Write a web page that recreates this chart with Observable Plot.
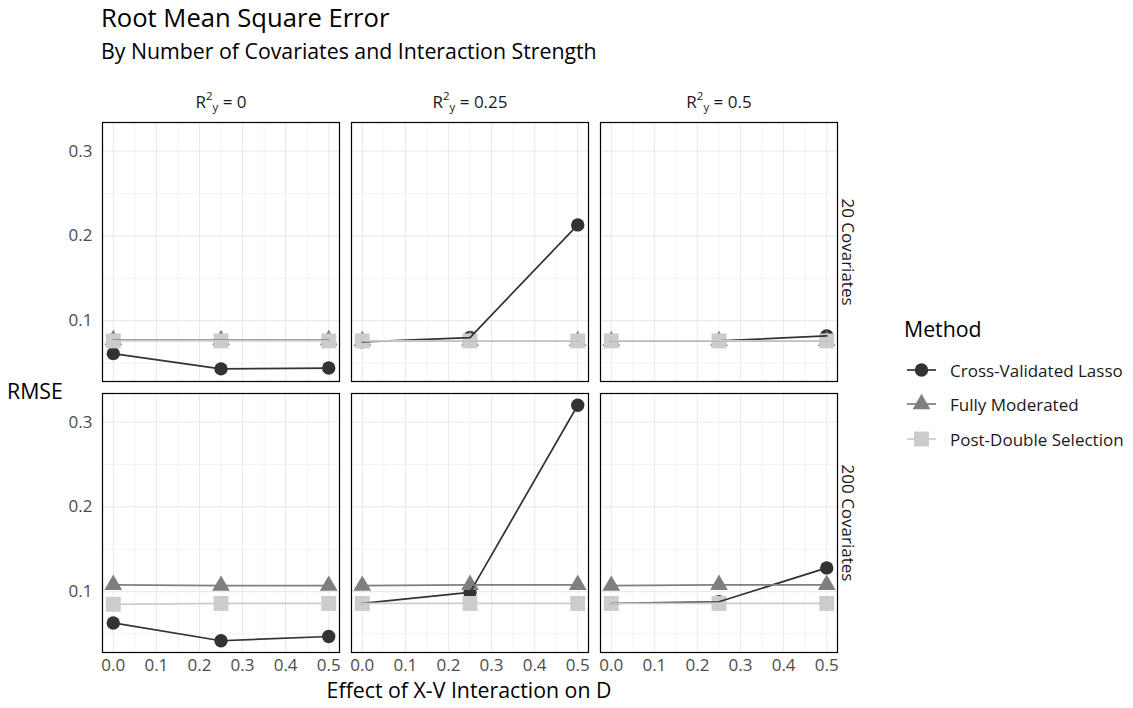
<!DOCTYPE html>
<html><head><meta charset="utf-8">
<script src="https://cdn.jsdelivr.net/npm/d3@7"></script>
<script src="https://cdn.jsdelivr.net/npm/@observablehq/plot@0.6"></script>
<style>
body{margin:0;background:#fff;font-family:"Open Sans",sans-serif;}
#wrap{position:relative;width:1133px;height:708px;overflow:hidden;background:#fff;}
.abs{position:absolute;white-space:nowrap;line-height:1;}
#chart{position:absolute;left:0;top:0;}
</style></head><body><div id="wrap"><div id="chart"></div></div>
<script>
// ---- data ----
const methods = ["Cross-Validated Lasso", "Fully Moderated", "Post-Double Selection"];
const methodColors = ["#333333", "#7f7f7f", "#cccccc"];
const methodSymbols = ["circle", "triangle", "square"];
const interaction = [0, 0.25, 0.5];
const r2y = [0, 0.25, 0.5];
const covariates = ["20 Covariates", "200 Covariates"];
const xTicks = [0, 0.1, 0.2, 0.3, 0.4, 0.5];
const xMinorTicks = [0.05, 0.15, 0.25, 0.35, 0.45];
const yTicks = [0.1, 0.2, 0.3];
const yMinorTicks = [0.05, 0.15, 0.25];

// values ordered: R2y = 0 (3 interaction pts), R2y = 0.25, R2y = 0.5
const cvLasso20   = [0.061, 0.043, 0.044,  0.075, 0.080, 0.213,  0.076, 0.076, 0.082];
const cvLasso200  = [0.063, 0.042, 0.047,  0.086, 0.099, 0.320,  0.086, 0.088, 0.128];
const fullyMod20  = [0.077, 0.077, 0.077,  0.076, 0.076, 0.076,  0.076, 0.076, 0.076];
const fullyMod200 = [0.108, 0.107, 0.107,  0.107, 0.108, 0.108,  0.107, 0.108, 0.108];
const pds20       = [0.076, 0.076, 0.076,  0.076, 0.076, 0.076,  0.076, 0.076, 0.076];
const pds200      = [0.085, 0.086, 0.086,  0.086, 0.086, 0.086,  0.086, 0.086, 0.086];

const seriesValues = [
  [cvLasso20, cvLasso200],
  [fullyMod20, fullyMod200],
  [pds20, pds200]
];

const rows = [];
methods.forEach((m, mi) => {
  covariates.forEach((cov, ci) => {
    r2y.forEach((r, ri) => {
      interaction.forEach((x, xi) => {
        rows.push({method: m, cov, r2: r, inter: x, rmse: seriesValues[mi][ci][ri * 3 + xi]});
      });
    });
  });
});

const [ymin, ymax] = d3.extent(rows, d => d.rmse);
const yPad = (ymax - ymin) * 0.05;
const xPad = (0.5 - 0) * 0.05;

const FONT = '"Open Sans", sans-serif';
const symbolR = [6.7, 6.6, 8.4];

const marks = [
  Plot.gridX(xMinorTicks, {stroke: "#ebebeb", strokeOpacity: 1, strokeWidth: 0.6}),
  Plot.gridX(xTicks, {stroke: "#ebebeb", strokeOpacity: 1, strokeWidth: 1.1}),
  Plot.gridY(yMinorTicks, {stroke: "#ebebeb", strokeOpacity: 1, strokeWidth: 0.6}),
  Plot.gridY(yTicks, {stroke: "#ebebeb", strokeOpacity: 1, strokeWidth: 1.1}),
  ...methods.map((m, i) => Plot.dot(rows.filter(d => d.method === m), {
    x: "inter", y: "rmse", fx: "r2", fy: "cov",
    symbol: methodSymbols[i], r: symbolR[i], fill: methodColors[i], stroke: "none"
  })),
  ...methods.map((m, i) => Plot.line(rows.filter(d => d.method === m), {
    x: "inter", y: "rmse", fx: "r2", fy: "cov", z: d => d.r2 + "|" + d.cov,
    stroke: methodColors[i], strokeWidth: 1.7
  })),
  Plot.frame({stroke: "#000", strokeWidth: 1.2}),
  Plot.axisX(xTicks, {tickSize: 0, tickPadding: 6, tickFormat: d3.format(".1f"), fontSize: 17, color: "#4d4d4d", label: null}),
  Plot.axisY(yTicks, {tickSize: 0, tickPadding: 10, tickFormat: d3.format(".1f"), fontSize: 17, color: "#4d4d4d", label: null}),
  Plot.axisFx({anchor: "top", tickSize: 0, tickPadding: 15, fontSize: 17, color: "#1a1a1a", label: null, tickFormat: d => String(d)}),
  Plot.text(covariates, {fy: d => d, fx: () => 0.5, text: d => d, frameAnchor: "right", rotate: 90, dx: 10,
    textAnchor: "middle", lineAnchor: "middle", fontSize: 17, fill: "#1a1a1a"})
];

const chart = Plot.plot({
  width: 880, height: 708,
  marginLeft: 102, marginRight: 43, marginTop: 121, marginBottom: 55,
  style: {fontFamily: FONT, background: "#fff", overflow: "visible"},
  x: {domain: [0 - xPad, 0.5 + xPad]},
  y: {domain: [ymin - yPad, ymax + yPad]},
  fx: {domain: r2y, paddingInner: 0.05, paddingOuter: 0},
  fy: {domain: covariates, paddingInner: 0.0441, paddingOuter: 0, axis: null},
  marks
});
document.getElementById("chart").appendChild(chart);

// strip labels with R^2_y notation
chart.querySelectorAll('[aria-label="fx-axis tick label"] text').forEach(t => {
  const v = t.textContent;
  t.textContent = "";
  const ns = "http://www.w3.org/2000/svg";
  const add = (txt, attrs) => {
    const s = document.createElementNS(ns, "tspan");
    s.textContent = txt;
    for (const k in attrs) s.setAttribute(k, attrs[k]);
    t.appendChild(s);
  };
  add("R", {});
  add("2", {"font-size": 11.5, dy: -8});
  add("y", {"font-size": 11.5, dy: 11});
  add(" = " + v, {dy: -3});
});

// titles, axis titles, legend
const wrap = document.getElementById("wrap");
function addDiv(text, css) {
  const d = document.createElement("div");
  d.className = "abs";
  d.textContent = text;
  Object.assign(d.style, css);
  wrap.appendChild(d);
  return d;
}
addDiv("Root Mean Square Error", {left: "101px", top: "5px", fontSize: "25.6px", color: "#000"});
addDiv("By Number of Covariates and Interaction Strength", {left: "101px", top: "40px", fontSize: "21.3px", color: "#000"});
addDiv("RMSE", {left: "7px", top: "380px", fontSize: "21.3px", color: "#000"});
addDiv("Effect of X-V Interaction on D", {left: "469px", top: "679px", fontSize: "21.3px", color: "#000", transform: "translateX(-50%)"});
addDiv("Method", {left: "904px", top: "318px", fontSize: "21.3px", color: "#000"});

const legendY = [370, 404, 439];
methods.forEach((m, i) => {
  const holder = document.createElement("div");
  holder.className = "abs";
  Object.assign(holder.style, {left: "903px", top: (legendY[i] - 12) + "px", height: "24px", display: "flex", alignItems: "center"});
  const svg = d3.create("svg").attr("width", 36).attr("height", 24);
  svg.append("line").attr("x1", 4).attr("x2", 33).attr("y1", 12).attr("y2", 12)
    .attr("stroke", methodColors[i]).attr("stroke-width", 1.7);
  const symType = {circle: d3.symbolCircle, triangle: d3.symbolTriangle, square: d3.symbolSquare}[methodSymbols[i]];
  svg.append("path").attr("d", d3.symbol(symType, Math.PI * symbolR[i] * symbolR[i])())
    .attr("transform", "translate(18.5,12)").attr("fill", methodColors[i]);
  holder.appendChild(svg.node());
  const lab = document.createElement("span");
  lab.textContent = m;
  Object.assign(lab.style, {fontSize: "17px", color: "#1a1a1a", marginLeft: "11px"});
  holder.appendChild(lab);
  wrap.appendChild(holder);
});
</script></body></html>
